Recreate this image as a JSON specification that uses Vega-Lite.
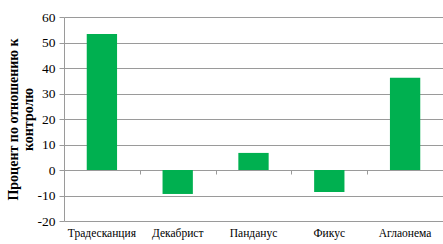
{
  "$schema": "https://vega.github.io/schema/vega-lite/v6.json",
  "width": 379,
  "height": 204,
  "autosize": {"type": "none"},
  "padding": {"left": 64, "top": 17, "right": 0, "bottom": 23},
  "background": "white",
  "config": {"view": {"stroke": null}},
  "data": {
    "values": [
      {"plant": "Традесканция", "value": 53.3},
      {"plant": "Декабрист", "value": -9.4},
      {"plant": "Панданус", "value": 6.7},
      {"plant": "Фикус", "value": -8.6},
      {"plant": "Аглаонема", "value": 36.2}
    ]
  },
  "resolve": {"axis": {"x": "independent"}, "scale": {"x": "independent"}},
  "layer": [
    {
      "mark": {"type": "bar", "color": "#00B050"},
      "encoding": {
        "x": {
          "field": "plant", "type": "nominal", "sort": null,
          "scale": {"paddingInner": 0.6, "paddingOuter": 0.3},
          "axis": {
            "orient": "bottom",
            "title": null, "labelAngle": 0, "ticks": false, "domain": false,
            "labelFont": "Liberation Serif", "labelFontSize": 11.5, "labelColor": "#000",
            "labelPadding": 6
          }
        },
        "y": {
          "field": "value", "type": "quantitative",
          "scale": {"domain": [-20, 60], "nice": false},
          "axis": {
            "values": [-20, -10, 0, 10, 20, 30, 40, 50, 60],
            "labelExpr": "'' + datum.value",
            "grid": true, "gridColor": "#9a9a9a", "gridWidth": 1,
            "domainColor": "#9a9a9a", "tickColor": "#9a9a9a", "tickSize": 5,
            "labelFont": "Liberation Serif", "labelFontSize": 13.5, "labelColor": "#000",
            "labelPadding": 4,
            "title": ["Процент  по отношению к", "контролю"],
            "titleFont": "Liberation Serif", "titleFontSize": 14, "titleFontWeight": "bold",
            "titleColor": "#000", "titleAngle": -90, "titleAlign": "center",
            "titleBaseline": "middle", "titleX": -51, "titleY": 102, "titleLineHeight": 15
          }
        }
      }
    },
    {
      "mark": {"type": "bar", "opacity": 0},
      "encoding": {
        "x": {
          "field": "plant", "type": "nominal", "sort": null,
          "scale": {"paddingInner": 0, "paddingOuter": 0},
          "axis": {
            "orient": "bottom",
            "title": null, "labels": false, "ticks": true, "domain": false,
            "tickBand": "extent", "tickSize": 4, "tickColor": "#9a9a9a",
            "offset": -51, "grid": false
          }
        }
      }
    }
  ]
}
